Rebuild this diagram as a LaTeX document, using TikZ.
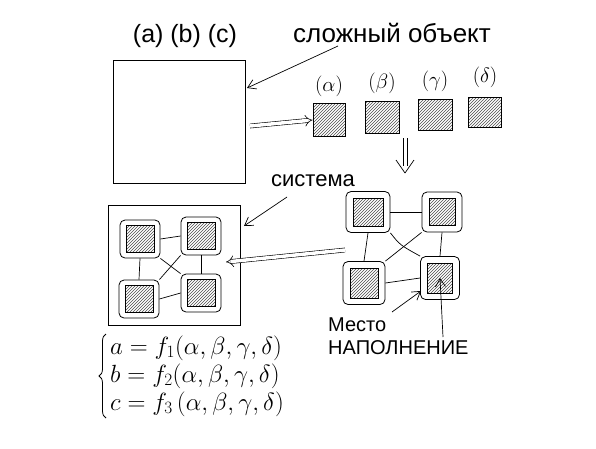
\documentclass[tikz,border=0pt]{standalone}
\usepackage{fontspec}
\setmainfont{Liberation Sans}
\usetikzlibrary{arrows.meta,patterns,calc,decorations.pathreplacing}
\tikzset{
  frame/.style={draw, line width=0.8pt, inner sep=0pt},
  hatch/.style={draw, line width=0.9pt, pattern=north east lines, pattern color=black!70, inner sep=0pt},
  halo/.style={draw, line width=0.8pt, rounded corners=5pt, inner sep=0pt},
  link/.style={line width=0.7pt},
  ptr/.style={line width=0.7pt, -{Straight Barb[length=8pt,width=10pt]}},
  dbl/.style={double, double distance=3.5pt, line width=0.6pt, -{Implies[length=8pt]}},
  lbl/.style={inner sep=0pt, font=\fontsize{21}{24}\selectfont},
  eqn/.style={inner sep=0pt, anchor=west, font=\fontsize{23}{28}\selectfont},
}
\begin{document}
\begin{tikzpicture}[x=1pt,y=-1pt]
\useasboundingbox (0,0) rectangle (596,448);
% top labels
\node[lbl, font=\fontsize{25}{28}\selectfont] (abc) at (185,36) {(a)\;(b)\;(c)};
\node[lbl, font=\fontsize{26}{28}\selectfont] (cobj) at (392,33) {сложный объект};
% complex object box
\node[frame, minimum width=132pt, minimum height=123pt] (obj) at (179,121.5) {};
\coordinate (cobjtail) at (338,46);
\coordinate (objhit) at (247,88);
\draw[ptr] (cobjtail) -- (objhit);
% parameters
\node[hatch, minimum width=32pt, minimum height=33pt] (pa) at (329,120) {};
\node[hatch, minimum width=34pt, minimum height=32pt] (pb) at (382,117) {};
\node[hatch, minimum width=34pt, minimum height=31pt] (pc) at (435,115) {};
\node[hatch, minimum width=33pt, minimum height=30pt] (pd) at (485,112) {};
\node[lbl] (la) at (329,86) {$(\alpha)$};
\node[lbl] (lb) at (382,83) {$(\beta)$};
\node[lbl] (lc) at (435,81) {$(\gamma)$};
\node[lbl] (ld) at (485,77) {$(\delta)$};
\coordinate (dblstart) at (250,126);
\draw[dbl] (dblstart) -- (pa.west);
% down double arrow
\coordinate (dla) at (403,138);
\coordinate (dlb) at (403,166);
\coordinate (dra) at (407,138);
\coordinate (drb) at (407,166);
\coordinate (dtip) at (405,173);
\coordinate (dwl) at (396,160);
\coordinate (dwr) at (414,160);
\draw[link] (dla) -- (dlb);
\draw[link] (dra) -- (drb);
\draw[link, line join=round] (dwl) -- (dtip) -- (dwr);
% system label
\node[lbl, font=\fontsize{22}{24}\selectfont] (sys) at (313,181) {система};
% system box
\node[frame, minimum width=132pt, minimum height=120pt] (sbox) at (174,265) {};
\coordinate (systail) at (287,197);
\coordinate (syshit) at (244,226);
\draw[ptr] (systail) -- (syshit);
% inner system nodes
\foreach \n/\x/\y in {a/140/239, b/201/236, c/139/299, d/201/293}{
  \node[halo, minimum width=40pt, minimum height=38pt] (s\n) at (\x,\y) {};
  \node[hatch, minimum width=28pt, minimum height=27pt] at (\x,\y) {};
}
\draw[link] (sa.east) -- (sb.west);
\draw[link] (sc.east) -- (sd.west);
\draw[link] (sa.south) -- (sc.north);
\draw[link] (sb.south) -- (sd.north);
\draw[link] (sa.south east) -- (sd.north west);
\draw[link] (sb.south west) -- (sc.north east);
% right cluster
\foreach \n/\x/\y/\w/\h in {a/368/212/44/41, b/442/212/40/40, c/364/283/42/43, d/440/278/39/43}{
  \node[halo, minimum width=\w pt, minimum height=\h pt] (r\n) at (\x,\y) {};
  \node[hatch, minimum width=\w pt-14pt, minimum height=\h pt-13pt] (ri\n) at (\x,\y) {};
}
\draw[link] (ra.east) -- (rb.west);
\draw[link] (rc.east) -- (rd.west);
\draw[link] (ra.south) -- (rc.north);
\draw[link] (rb.south) -- (rd.north);
\draw[link] (ra.south east) .. controls (400,245) .. (rd.north west);
\draw[link] (rb.south west) -- (rc.north east);
% transfer arrow
\coordinate (trstart) at (345,250);
\coordinate (trend) at (226,262);
\draw[dbl] (trstart) -- (trend);
% place label
\node[lbl, align=left, anchor=north west, font=\fontsize{20}{23}\selectfont] (place) at (328,318) {Место\\НАПОЛНЕНИЕ};
\coordinate (placetail) at (392,312);
\coordinate (placehit) at (421,291);
\draw[ptr] (placetail) -- (placehit);
\coordinate (uptail) at (443,337);
\draw[ptr] (uptail) -- (rid.center);
% formulas
\coordinate (brbot) at (106,418);
\coordinate (brtop) at (106,334);
\draw[line width=0.8pt, decorate, decoration={brace, amplitude=7pt}] (brbot) -- (brtop);
\node[eqn] (eqa) at (110,348) {$a=f_1(\alpha,\beta,\gamma,\delta)$};
\node[eqn] (eqb) at (110,376) {$b=f_2(\alpha,\beta,\gamma,\delta)$};
\node[eqn] (eqc) at (110,404) {$c=f_3\,(\alpha,\beta,\gamma,\delta)$};
\end{tikzpicture}
\end{document}
